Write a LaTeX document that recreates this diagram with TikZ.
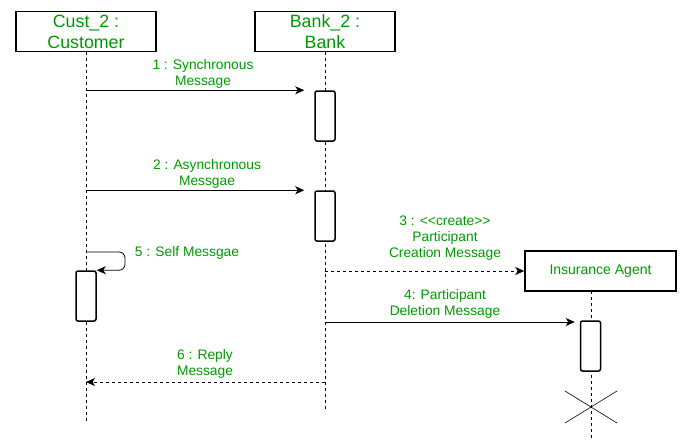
\documentclass[tikz,border=0pt]{standalone}
\usepackage{fontspec}
\setmainfont{Liberation Sans}
\usetikzlibrary{arrows.meta}
\definecolor{lbl}{RGB}{0,153,0}
\begin{document}
\begin{tikzpicture}[x=1pt,y=-1pt,
  head/.style={draw, line width=1.5pt, minimum width=140pt, minimum height=40pt, inner sep=0pt,
    font=\fontsize{17.8}{21}\selectfont, text=lbl, align=center},
  agent/.style={draw, line width=1.5pt, minimum width=151pt, minimum height=40pt, inner sep=0pt,
    font=\fontsize{14}{16}\selectfont, text=lbl},
  actbox/.style={draw, fill=white, line width=1.5pt, rounded corners=2pt, minimum width=20pt, minimum height=50pt, inner sep=0pt},
  life/.style={line width=0.7pt, dash pattern=on 3pt off 3pt},
  msg/.style={line width=0.8pt, -{Stealth[length=9pt,width=8pt,inset=2.5pt]}},
  ret/.style={msg, dash pattern=on 3pt off 3pt},
  lab/.style={font=\fontsize{13.8}{16}\selectfont, text=lbl, align=center, inner sep=0pt}]
\useasboundingbox (0,0) rectangle (695,444);
% participants
\node[head] (cust) at (86,31.5) {Cust\_2 :\\Customer};
\node[head] (bank) at (325,31.5) {Bank\_2 :\\Bank};
\node[agent] (ins) at (600.5,271) {Insurance Agent};
% lifeline ends
\coordinate (custEnd) at (86,421);
\coordinate (bankEnd) at (325,411);
\coordinate (insLife) at (591,291);
\coordinate (insEnd) at (591,440);
\draw[life] (cust.south) -- (custEnd);
\draw[life] (bank.south) -- (bankEnd);
\draw[life] (insLife) -- (insEnd);
% activations
\node[actbox] (act1) at (325,116) {};
\node[actbox] (act2) at (325,216) {};
\node[actbox] (act3) at (86,296) {};
\node[actbox] (act4) at (590.5,346) {};
% message 1
\draw[msg, shorten >=10pt] (cust.south |- act1.north) -- (act1.north west);
\node[lab] (l1) at (203,73.5) {1 : Synchronous\\Message};
% message 2
\draw[msg, shorten >=10pt] (cust.south |- act2.north) -- (act2.north west);
\node[lab] (l2) at (207,173.5) {2 : Asynchronous\\Messgae};
% message 5 self
\coordinate (s1) at (86,252);
\coordinate (s2) at (125,252);
\draw[msg, rounded corners=6pt] (s1) -- (s2) |- (act3.north east);
\node[lab] (l5) at (187,253) {5 : Self Messgae};
% message 3 create
\draw[ret] (bank.south |- ins.west) -- (ins.west);
\node[lab] (l3) at (445,238.5) {3 : <\kern0pt<create>\kern0pt>\\Participant\\Creation Message};
% message 4
\coordinate (m4s) at (325,322);
\draw[msg, shorten >=5pt] (m4s) -- (act4.north west |- m4s);
\node[lab] (l4) at (445,303.5) {4: Participant\\Deletion Message};
% message 6 reply
\coordinate (m6s) at (325,382);
\draw[ret] (m6s) -- (cust.south |- m6s);
\node[lab] (l6) at (205,363.5) {6 : Reply\\Message};
% destruction
\coordinate (xc) at (591,407);
\draw[line width=0.6pt] ([shift={(-26,-16)}]xc) -- ([shift={(26,16)}]xc)
  ([shift={(-26,16)}]xc) -- ([shift={(26,-16)}]xc);
\end{tikzpicture}
\end{document}
